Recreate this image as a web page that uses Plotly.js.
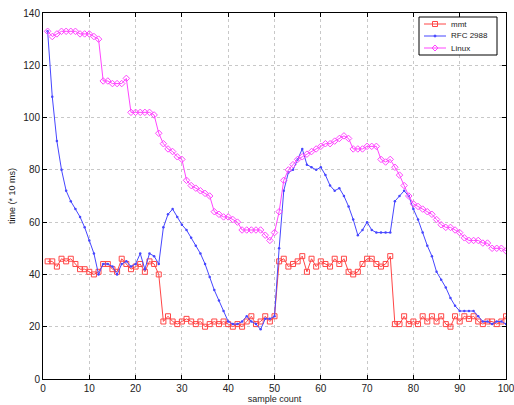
<!DOCTYPE html>
<html>
<head>
<meta charset="utf-8">
<script src="https://cdn.plot.ly/plotly-3.0.1.min.js"></script>
<style>
html,body{margin:0;padding:0;background:#fff;}
#chart{width:514px;height:405px;}
</style>
</head>
<body>
<div id="chart"></div>
<script>
const sampleCount = Array.from({length: 100}, (_, i) => i + 1);

const mmt = [
  45, 45, 43, 46, 45, 46, 44, 42, 42, 41,
  40, 41, 44, 44, 42, 41, 46, 44, 42, 43,
  44, 41, 45, 44, 40, 22, 24, 22, 21, 22,
  23, 22, 21, 22, 20, 21, 22, 21, 22, 21,
  20, 21, 20, 22, 24, 21, 22, 24, 22, 24,
  45, 46, 43, 44, 45, 47, 41, 46, 43, 45,
  44, 43, 46, 44, 46, 41, 40, 41, 44, 46,
  46, 44, 43, 44, 47, 21, 21, 24, 21, 22,
  21, 24, 22, 24, 22, 24, 21, 20, 24, 22,
  24, 23, 24, 22, 21, 22, 22, 21, 22, 24
];

const rfc2988 = [
  133, 108, 91, 80, 72, 68, 65, 62, 58, 53,
  48, 40, 44, 44, 43, 40, 44, 45, 43, 44,
  48, 42, 48, 47, 44, 58, 63, 65, 62, 59,
  57, 54, 51, 48, 44, 39, 34, 30, 26, 22,
  21, 21, 22, 24, 22, 21, 19, 23, 23, 24,
  50, 72, 79, 80, 84, 88, 82, 81, 80, 81,
  78, 74, 72, 73, 70, 66, 61, 55, 57, 60,
  57, 56, 56, 56, 56, 68, 70, 72, 70, 65,
  61, 56, 51, 47, 41, 38, 35, 31, 28, 26,
  26, 26, 26, 24, 22, 22, 21, 22, 22, 21
];

const linux = [
  133, 131, 132, 133, 133, 133, 133, 132, 132, 132,
  131, 130, 114, 114, 113, 113, 113, 115, 102, 102,
  102, 102, 102, 101, 94, 90, 88, 87, 85, 84,
  76, 74, 73, 72, 71, 70, 64, 63, 62, 62,
  61, 60, 57, 57, 57, 57, 57, 55, 53, 56,
  64, 76, 80, 82, 84, 85, 86, 87, 88, 89,
  90, 90, 91, 92, 93, 92, 88, 88, 88, 89,
  89, 89, 84, 83, 84, 81, 78, 74, 70, 67,
  66, 65, 64, 63, 61, 59, 58, 58, 57, 56,
  54, 53, 53, 53, 52, 52, 50, 50, 50, 49
];

const seriesNames = ['mmt', 'RFC 2988', 'Linux'];
const seriesColors = ['#ff4646', '#4646ff', '#ff46ff'];

const FONT = 'Liberation Sans, Arial, sans-serif';

const traces = [
  {
    x: sampleCount, y: mmt, name: seriesNames[0], type: 'scatter', mode: 'lines+markers',
    line: {color: seriesColors[0], width: 1},
    marker: {symbol: 'square-open', size: 5, color: seriesColors[0], line: {width: 1}}
  },
  {
    x: sampleCount, y: rfc2988, name: seriesNames[1], type: 'scatter', mode: 'lines+markers',
    line: {color: seriesColors[1], width: 1},
    marker: {symbol: 'circle', size: 2.5, color: seriesColors[1]}
  },
  {
    x: sampleCount, y: linux, name: seriesNames[2], type: 'scatter', mode: 'lines+markers',
    line: {color: seriesColors[2], width: 1},
    marker: {symbol: 'diamond-open', size: 5, color: seriesColors[2], line: {width: 1}}
  }
];

// plot area in pixels (for the hand-made legend placement)
const PL = 43, PR = 506, PT = 13, PB = 379;
const px = v => (v - PL) / (PR - PL);
const py = v => (PB - v) / (PB - PT);

const shapes = [];
const annotations = [];
// legend box
shapes.push({type: 'rect', xref: 'paper', yref: 'paper',
  x0: px(419), x1: px(497), y0: py(55), y1: py(17),
  line: {color: '#000', width: 1}, fillcolor: '#fff', layer: 'above'});
const rowY = [24, 36, 48];
rowY.forEach((ry, i) => {
  shapes.push({type: 'line', xref: 'paper', yref: 'paper',
    x0: px(424), x1: px(446), y0: py(ry), y1: py(ry),
    line: {color: seriesColors[i], width: 1}, layer: 'above'});
  if (i === 0) {
    shapes.push({type: 'rect', xref: 'paper', yref: 'paper',
      x0: px(432.5), x1: px(437.5), y0: py(ry + 2.5), y1: py(ry - 2.5),
      line: {color: seriesColors[i], width: 1}, fillcolor: 'rgba(0,0,0,0)', layer: 'above'});
  } else if (i === 1) {
    shapes.push({type: 'circle', xref: 'paper', yref: 'paper',
      x0: px(434), x1: px(436), y0: py(ry + 1), y1: py(ry - 1),
      line: {color: seriesColors[i], width: 1}, fillcolor: seriesColors[i], layer: 'above'});
  } else {
    const cx = 435, d = 3;
    shapes.push({type: 'path', xref: 'paper', yref: 'paper',
      path: `M ${px(cx - d)} ${py(ry)} L ${px(cx)} ${py(ry - d)} L ${px(cx + d)} ${py(ry)} L ${px(cx)} ${py(ry + d)} Z`,
      line: {color: seriesColors[i], width: 1}, fillcolor: 'rgba(0,0,0,0)', layer: 'above'});
  }
  annotations.push({xref: 'paper', yref: 'paper', x: px(449), y: py(ry),
    xanchor: 'left', yanchor: 'middle', showarrow: false, text: seriesNames[i],
    font: {family: FONT, size: 8, color: '#222'}});
});

const axisCommon = {
  showline: true, mirror: 'ticks', linecolor: '#000', linewidth: 1,
  ticks: 'inside', ticklen: 4, tickcolor: '#000',
  showgrid: true, gridcolor: '#c8c8c8', griddash: 'dot', gridwidth: 1,
  zeroline: false,
  ticklabeloverflow: 'allow',
  tickfont: {family: FONT, size: 10, color: '#222'}
};

const layout = {
  width: 514, height: 405,
  margin: {l: PL, r: 514 - PR, t: PT, b: 405 - PB},
  paper_bgcolor: '#fff', plot_bgcolor: '#fff',
  showlegend: false,
  shapes: shapes,
  annotations: annotations,
  xaxis: Object.assign({}, axisCommon, {
    range: [0, 100], dtick: 10, tick0: 0,
    title: {text: 'sample count', standoff: 1, font: {family: FONT, size: 9, color: '#222'}}
  }),
  yaxis: Object.assign({}, axisCommon, {
    range: [0, 140], dtick: 20, tick0: 0,
    title: {text: 'time (* 10 ms)', standoff: 6, font: {family: FONT, size: 9, color: '#222'}}
  })
};

Plotly.newPlot('chart', traces, layout, {displayModeBar: false, staticPlot: true});
</script>
</body>
</html>
